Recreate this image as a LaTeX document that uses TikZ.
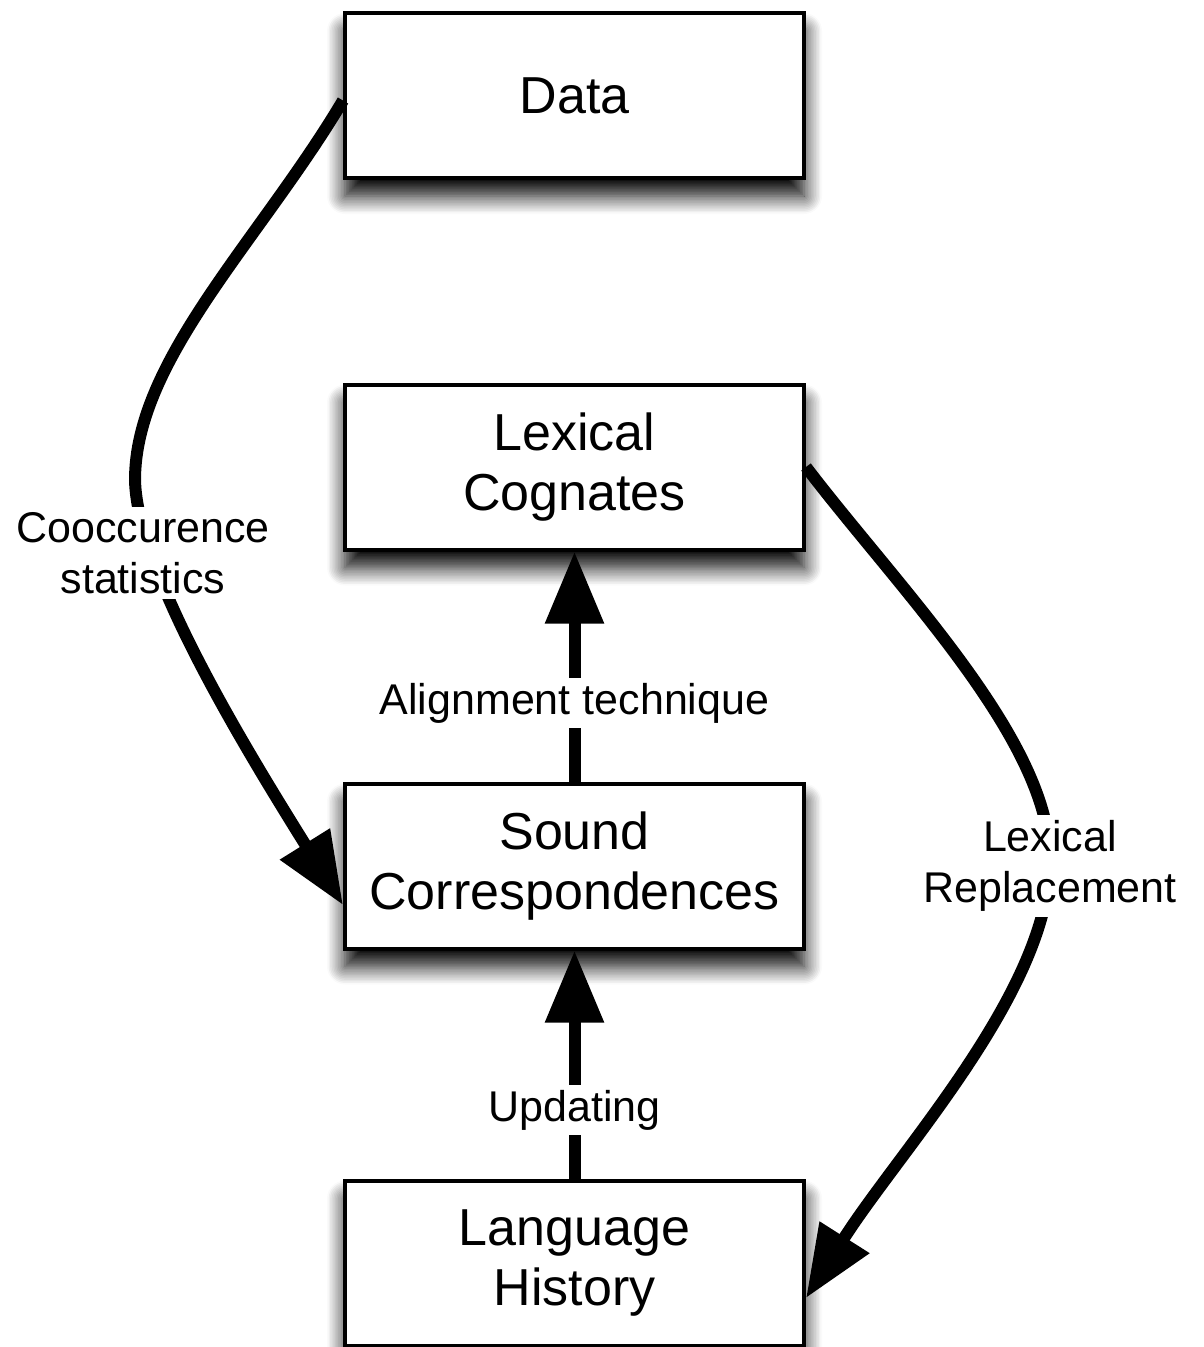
\documentclass[tikz,border=0pt]{standalone}
\usepackage{fontspec}
\setmainfont{Liberation Sans}
\usetikzlibrary{arrows.meta,shadows.blur}
\begin{document}
\begin{tikzpicture}[x=1pt,y=-1pt,
  stage/.style={draw=black, line width=4pt, fill=white,
    minimum width=459pt, minimum height=165pt, align=center,
    font=\fontsize{52}{60}\selectfont,
    blur shadow={shadow xshift=0pt, shadow yshift=-18pt,
      shadow blur radius=18pt, shadow blur steps=12, shadow opacity=100}},
  flow/.style={line width=12pt, -{Triangle[length=72pt,width=56pt]}},
  lbl/.style={fill=white, align=center, inner sep=5pt,
    font=\fontsize{43}{51}\selectfont}]
\useasboundingbox (0,0) rectangle (1203,1347);

% boxes
\node[stage] (data) at (574.5,95.5) {Data};
\node[stage] (lex)  at (574.5,467)  {Lexical\\Cognates};
\node[stage] (snd)  at (574.5,866)  {Sound\\Correspondences};
\node[stage] (hist) at (574.5,1263) {Language\\History};

% straight arrows between stacked boxes
\draw[flow] (snd.north) -- (lex.south) coordinate[pos=0.34] (alignpt);
\draw[flow] (hist.north) -- (snd.south) coordinate[pos=0.30] (updpt);

% curved arrows round the sides
\draw[flow] ([yshift=-5pt]data.west)
  .. controls (260,240) and (135,360) .. (135,480)
  .. controls (137,570) and (240,740) .. ([yshift=-39pt]snd.west);
\draw[flow] (lex.east)
  .. controls (900,590) and (1050,740) .. (1050,860)
  .. controls (1050,990) and (900,1150) .. ([yshift=-35pt]hist.east);

% labels
\node[lbl] (align) at (alignpt) {Alignment technique};
\node[lbl] (upd)   at (updpt)   {Updating};
\node[lbl] (cooc)  at (143,553) {Cooccurence\\statistics};
\node[lbl] (repl)  at (1050,866) {Lexical\\Replacement};
\end{tikzpicture}
\end{document}
